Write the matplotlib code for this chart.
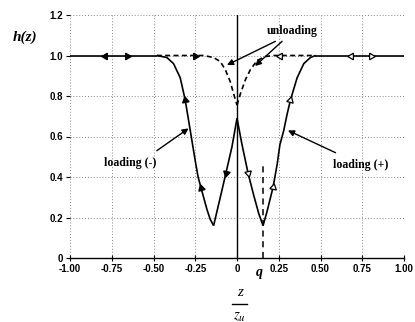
import numpy as np
import matplotlib
matplotlib.use("Agg")
import matplotlib.pyplot as plt
from matplotlib.lines import Line2D

plt.rcParams['axes.unicode_minus'] = False

# ---- data ----
flat_left_z = [-1.0, -0.48]
flat_left_h = [1.0, 1.0]
flat_right_z = [0.47, 1.0]
flat_right_h = [1.0, 1.0]

loading_minus_z = [-0.48, -0.42, -0.38, -0.34, -0.31, -0.28, -0.25, -0.233, -0.21, -0.18, -0.16, -0.14]
loading_minus_h = [1.0, 0.99, 0.96, 0.89, 0.78, 0.63, 0.48, 0.40, 0.33, 0.24, 0.19, 0.16]

left_v_z = [-0.14, -0.10, -0.066, -0.03, 0.0]
left_v_h = [0.16, 0.30, 0.42, 0.55, 0.69]

right_v_z = [0.0, 0.03, 0.066, 0.10, 0.13, 0.156]
right_v_h = [0.69, 0.56, 0.42, 0.31, 0.22, 0.16]

loading_plus_z = [0.156, 0.18, 0.216, 0.24, 0.257, 0.28, 0.30, 0.32, 0.36, 0.40, 0.44, 0.47]
loading_plus_h = [0.16, 0.23, 0.35, 0.46, 0.56, 0.63, 0.71, 0.78, 0.89, 0.96, 0.99, 1.0]

unload_left_z = [-0.48, -0.20, -0.14, -0.10, -0.07, -0.04, -0.02, 0.0]
unload_left_h = [1.0, 1.0, 0.99, 0.97, 0.93, 0.87, 0.81, 0.755]
unload_right_z = [0.0, 0.02, 0.05, 0.08, 0.12, 0.17, 0.22, 0.47]
unload_right_h = [0.755, 0.81, 0.88, 0.93, 0.975, 0.995, 1.0, 1.0]

q_value = 0.156
q_line_h = [0.0, 0.47]

xticks = [-1.0, -0.75, -0.5, -0.25, 0.0, 0.25, 0.5, 0.75, 1.0]
xtick_labels = ['-1.00', '-0.75', '-0.50', '-0.25', '0', '0.25', '0.50', '0.75', '1.00']
yticks = [0.0, 0.2, 0.4, 0.6, 0.8, 1.0, 1.2]
ytick_labels = ['0', '0.2', '0.4', '0.6', '0.8', '1.0', '1.2']

# arrow markers: (curve name, z position, filled, reverse direction)
arrow_marks = [
    ('flat_left', -0.79, True, True),
    ('flat_left', -0.66, True, False),
    ('unload_left', -0.25, True, False),
    ('unload_right', 0.257, False, True),
    ('flat_right', 0.68, False, True),
    ('flat_right', 0.80, False, False),
    ('loading_minus', -0.31, True, True),
    ('loading_minus', -0.215, True, True),
    ('left_v', -0.066, True, True),
    ('right_v', 0.066, False, False),
    ('loading_plus', 0.216, False, False),
    ('loading_plus', 0.32, False, False),
]

curves = {
    'flat_left': (flat_left_z, flat_left_h),
    'flat_right': (flat_right_z, flat_right_h),
    'loading_minus': (loading_minus_z, loading_minus_h),
    'left_v': (left_v_z, left_v_h),
    'right_v': (right_v_z, right_v_h),
    'loading_plus': (loading_plus_z, loading_plus_h),
    'unload_left': (unload_left_z, unload_left_h),
    'unload_right': (unload_right_z, unload_right_h),
}

W, H = 415, 322
fig = plt.figure(figsize=(W / 100, H / 100), dpi=100)
ax = fig.add_axes([70 / W, (H - 258) / H, (404 - 70) / W, (258 - 15) / H])
ax.set_xlim(-1.0, 1.0)
ax.set_ylim(0.0, 1.2)

for s in ['top', 'right', 'left']:
    ax.spines[s].set_visible(False)
ax.spines['bottom'].set_linewidth(1.0)

# dotted grid
for x in xticks:
    ax.plot([x, x], [0, 1.2], color='#888888', lw=0.7, ls=(0, (1, 2)), zorder=0)
for y in yticks[1:]:
    ax.plot([-1, 1], [y, y], color='#888888', lw=0.7, ls=(0, (1, 2)), zorder=0)

ax.set_xticks(xticks)
ax.set_xticklabels(xtick_labels)
ax.set_yticks(yticks)
ax.set_yticklabels(ytick_labels)
ax.tick_params(axis='x', direction='inout', length=4, width=0.8, pad=2)
ax.tick_params(axis='y', direction='out', length=3, width=0.8, pad=2)
for lab in ax.get_xticklabels() + ax.get_yticklabels():
    lab.set_fontfamily('Liberation Sans')
    lab.set_fontweight('bold')
    lab.set_fontsize(7)

# zero vertical line
ax.plot([0, 0], [0, 1.2], color='black', lw=1.0, zorder=2)

lw = 1.2
for name in ['flat_left', 'flat_right', 'loading_minus', 'left_v', 'right_v', 'loading_plus']:
    zs, hs = curves[name]
    ax.plot(zs, hs, color='black', lw=lw, zorder=3, solid_capstyle='butt')
for name in ['unload_left', 'unload_right']:
    zs, hs = curves[name]
    ax.plot(zs, hs, color='black', lw=lw, ls=(0, (3, 2)), zorder=3)

# q dashed vertical
ax.plot([q_value, q_value], q_line_h, color='black', lw=1.1, ls=(0, (4, 3)), zorder=3)

fig.canvas.draw()
tr = ax.transData
for name, z0, filled, rev in arrow_marks:
    zs, hs = curves[name]
    zs = np.asarray(zs)
    hs = np.asarray(hs)
    h0 = np.interp(z0, zs, hs)
    dz = 0.01
    p1 = tr.transform((z0 - dz, np.interp(z0 - dz, zs, hs)))
    p2 = tr.transform((z0 + dz, np.interp(z0 + dz, zs, hs)))
    d = p2 - p1
    if rev:
        d = -d
    ang = np.degrees(np.arctan2(d[1], d[0])) - 90.0
    ax.plot([z0], [h0], marker=(3, 0, ang), markersize=5.5,
            markerfacecolor='black' if filled else 'white',
            markeredgecolor='black', markeredgewidth=0.9, zorder=5, ls='none')

tfont = dict(family='Liberation Serif', weight='bold', fontsize=8.5)
ax.text(0.33, 1.12, 'unloading', ha='center', va='center', **tfont)
ax.annotate('', xy=(-0.06, 0.953), xytext=(0.23, 1.07),
            arrowprops=dict(arrowstyle='-|>', color='black', lw=1.0, mutation_scale=9, shrinkA=0, shrinkB=0))
ax.annotate('', xy=(0.108, 0.948), xytext=(0.27, 1.07),
            arrowprops=dict(arrowstyle='-|>', color='black', lw=1.0, mutation_scale=9, shrinkA=0, shrinkB=0))

ax.text(-0.64, 0.47, 'loading (-)', ha='center', va='center', **tfont)
ax.annotate('', xy=(-0.29, 0.64), xytext=(-0.48, 0.53),
            arrowprops=dict(arrowstyle='-|>', color='black', lw=1.0, mutation_scale=9, shrinkA=0, shrinkB=0))
ax.text(0.74, 0.46, 'loading (+)', ha='center', va='center', **tfont)
ax.annotate('', xy=(0.305, 0.63), xytext=(0.59, 0.52),
            arrowprops=dict(arrowstyle='-|>', color='black', lw=1.0, mutation_scale=9, shrinkA=0, shrinkB=0))

ax.text(q_value - 0.02, -0.038, 'q', ha='center', va='top', family='Liberation Serif',
        weight='bold', style='italic', fontsize=10, transform=ax.transData)

fig.text(25 / W, 1 - 37 / H, 'h(z)', ha='center', va='center', family='Liberation Serif',
         weight='bold', style='italic', fontsize=11)

fig.text(240 / W, 1 - 292 / H, 'z', ha='center', va='center', family='Liberation Serif',
         style='italic', fontsize=11)
fig.add_artist(Line2D([232 / W, 247 / W], [1 - 304 / H, 1 - 304 / H], color='black', lw=1.0))
fig.text(240 / W, 1 - 316 / H, r'$z_u$', ha='center', va='center', fontsize=11,
         math_fontfamily='stix')

fig.savefig('out.png', dpi=100)
